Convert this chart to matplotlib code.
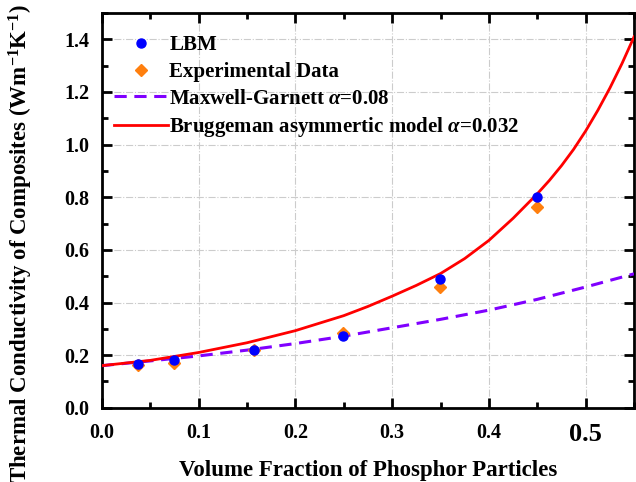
import matplotlib

matplotlib.use("Agg")

import matplotlib.pyplot as plt
from matplotlib.ticker import MultipleLocator

# measured points
lbm_x = [0.0375, 0.0748, 0.1575, 0.2496, 0.3495, 0.4495]
lbm_y = [0.168, 0.181, 0.221, 0.273, 0.491, 0.799]
exp_x = [0.0375, 0.0748, 0.1575, 0.2496, 0.3495, 0.4495]
exp_y = [0.164, 0.172, 0.219, 0.284, 0.459, 0.761]

# model curves
mg_x = [0.0, 0.05, 0.1, 0.15, 0.2, 0.25, 0.3, 0.35, 0.4, 0.45, 0.5, 0.55]
mg_y = [0.160, 0.178, 0.197, 0.219, 0.244, 0.272, 0.304, 0.336, 0.371, 0.412, 0.459, 0.509]
br_x = [0.0, 0.05, 0.1, 0.15, 0.2, 0.25, 0.275, 0.3, 0.325, 0.35, 0.375, 0.4,
        0.425, 0.45, 0.4625, 0.475, 0.4875, 0.5, 0.5125, 0.525, 0.5375, 0.55]
br_y = [0.160, 0.180, 0.210, 0.247, 0.293, 0.350, 0.385, 0.424, 0.465, 0.510, 0.567, 0.636,
        0.720, 0.813, 0.864, 0.920, 0.982, 1.052, 1.130, 1.215, 1.308, 1.41]

xtick_labels = ["0.0", "0.1", "0.2", "0.3", "0.4", "0.5"]
ytick_labels = ["0.0", "0.2", "0.4", "0.6", "0.8", "1.0", "1.2", "1.4"]

plt.rcParams["font.family"] = ["Liberation Serif", "DejaVu Serif"]
plt.rcParams["font.weight"] = "bold"
plt.rcParams["mathtext.fontset"] = "custom"
plt.rcParams["mathtext.rm"] = "Liberation Serif:bold"
plt.rcParams["mathtext.it"] = "Liberation Serif:bold:italic"

fig = plt.figure(figsize=(6.36, 4.82), dpi=100)
ax = fig.add_axes([0.160, 0.154, 0.837, 0.819])

ax.plot(lbm_x, lbm_y, "o", color="#0000ff", markersize=6.5, label="LBM", zorder=5)
ax.plot(exp_x, exp_y, "D", color="#ff7f0e", markersize=6.5, label="Experimental Data", zorder=4)
ax.plot(mg_x, mg_y, "--", color="#8000ff", linewidth=2.2, dashes=(4, 2.5),
        label=r"Maxwell-Garnett $\alpha$=0.08", zorder=3)
ax.plot(br_x, br_y, "-", color="#ff0000", linewidth=2.0,
        label=r"Bruggeman asymmertic model $\alpha$=0.032", zorder=3)

ax.set_xlim(0.0, 0.55)
ax.set_ylim(0.0, 1.5)
ax.set_xticks([float(t) for t in xtick_labels])
ax.set_xticklabels(xtick_labels)
ax.set_yticks([float(t) for t in ytick_labels])
ax.set_yticklabels(ytick_labels)
ax.xaxis.set_minor_locator(MultipleLocator(0.05))
ax.yaxis.set_minor_locator(MultipleLocator(0.1))

ax.tick_params(which="both", direction="in", top=True, right=True, width=2, labelsize=14.5)
ax.tick_params(axis="x", pad=11)
ax.tick_params(axis="y", pad=9)
ax.tick_params(which="major", length=7)
ax.tick_params(which="minor", length=4)
ax.get_xticklabels()[5].set_fontsize(19)
for spine in ax.spines.values():
    spine.set_linewidth(2)

ax.grid(True, which="major", linestyle="-.", color="0.8", linewidth=0.8)

ax.set_xlabel("Volume Fraction of Phosphor Particles", fontsize=16.5, fontweight="bold")
ax.xaxis.set_label_coords(0.5, -0.132)
ax.set_ylabel(r"Thermal Conductivity of Composites (Wm$^{-1}$K$^{-1}$)", fontsize=16.5,
              fontweight="bold")
ax.yaxis.set_label_coords(-0.125, 0.415)

leg = ax.legend(loc="upper left", bbox_to_anchor=(0.0, 0.975), frameon=False, fontsize=15,
                handlelength=2.6, handletextpad=0.05, labelspacing=0.32, borderaxespad=0.2)

fig.savefig("out.png", dpi=100)
